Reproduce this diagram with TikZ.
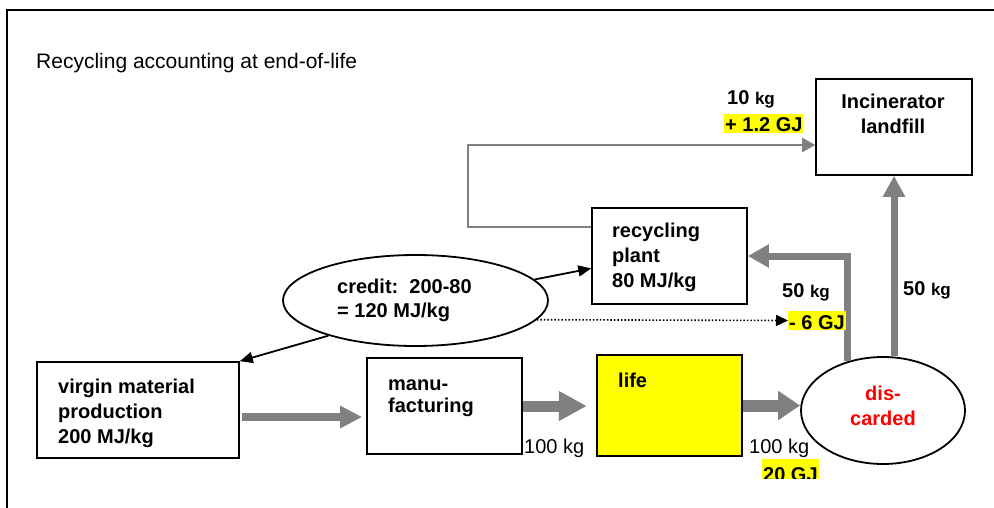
\documentclass[tikz,border=0pt]{standalone}
\usepackage{fontspec}
\setmainfont{Liberation Sans}
\usetikzlibrary{arrows.meta,shapes.geometric,calc}
\definecolor{flowgray}{RGB}{128,128,128}
\definecolor{hlyellow}{RGB}{255,255,0}
\definecolor{alertred}{RGB}{255,0,0}

\begin{document}
\begin{tikzpicture}[x=1pt,y=-1pt,
  box/.style={draw=black, line width=1.6pt, rectangle, inner sep=0pt},
  oval/.style={draw=black, line width=1.8pt, ellipse, inner sep=0pt},
  boxtext/.style={inner sep=0pt, font=\bfseries\fontsize{20}{25}\selectfont},
  qty/.style={anchor=base west, inner sep=0pt, font=\bfseries\fontsize{20}{24}\selectfont},
  mass/.style={anchor=base west, inner sep=0pt, font=\fontsize{20}{24}\selectfont},
  energy/.style={anchor=base west, fill=hlyellow, inner xsep=1pt, inner ysep=0pt,
    text height=18pt, text depth=1pt, font=\bfseries\fontsize{20}{24}\selectfont},
  loopline/.style={draw=flowgray, line width=2.5pt, line join=miter,
    -{Triangle[length=13pt,width=14pt]}},
  credit/.style={draw=black, line width=1.8pt, -{Triangle[length=13pt,width=11pt]}},
  saving/.style={draw=black, line width=1.6pt, dash pattern=on 1.5pt off 2pt,
    -{Triangle[length=12pt,width=11pt]}}
]
\useasboundingbox (0,0) rectangle (994,508);

% frame
\draw[line width=2pt] (7,520) -- (7,10) -- (1004,10);

% title
\node[anchor=base west, inner sep=0pt, font=\fontsize{21}{25}\selectfont] (title) at (36,69)
  {Recycling accounting at end-of-life};

% boxes and ovals
\node[box, minimum width=156pt, minimum height=96pt] (inc) at (894,127) {};
\node[box, minimum width=155pt, minimum height=96pt] (rec) at (669.5,256) {};
\node[box, minimum width=202pt, minimum height=96pt] (virgin) at (138,410) {};
\node[box, minimum width=155pt, minimum height=96pt] (manu) at (444.5,406) {};
\node[box, fill=hlyellow, line width=2.3pt, minimum width=145pt, minimum height=101pt] (life) at (669.5,405.5) {};
\node[oval, minimum width=265pt, minimum height=91pt] (cred) at (415.5,300.5) {};
\node[oval, minimum width=164pt, minimum height=107pt] (disc) at (883,410.5) {};

% texts inside the shapes
\node[boxtext, anchor=north, align=center] (inctext) at (893,90.5) {\strut Incinerator\\landfill};
\node[boxtext, anchor=north west, align=left] (rectext) at (612,219.5) {\strut recycling\\plant\\80 MJ/kg};
\node[boxtext, anchor=north west, align=left] (virgintext) at (58,375.5) {\strut virgin material\\production\\200 MJ/kg};
\node[boxtext, anchor=north west, align=left, font=\bfseries\fontsize{20}{22}\selectfont] (manutext) at (388,374.5) {\strut manu-\\facturing};
\node[boxtext, anchor=north west] (lifetext) at (618,369.5) {\strut life};
\node[boxtext, anchor=north west, align=left, font=\bfseries\fontsize{20}{24}\selectfont] (credtext) at (337,276.5) {\strut credit:\ \ 200-80\\= 120 MJ/kg};
\node[boxtext, anchor=north, align=center, text=alertred] (disctext) at (883,382.5) {\strut dis-\\carded};

% material flows
\draw[flowgray, line width=7.5pt, -{Triangle[length=22pt,width=21pt]}]
  ($(virgin.east)+(2,7)$) -- ($(manu.west)+(-4,11)$);
\draw[flowgray, line width=11pt, -{Triangle[length=28pt,width=28pt]}, shorten >=9pt]
  (manu.east) -- (manu.east -| life.west);
\draw[flowgray, line width=12pt, -{Triangle[length=22pt,width=28pt]}]
  (life.east) -- (life.east -| disc.west);
\draw[flowgray, line width=7pt, line join=miter, -{Triangle[length=21pt,width=22pt]}]
  (disc.126) |- (rec.east);
\draw[flowgray, line width=7pt, -{Triangle[length=21pt,width=21pt]}]
  (inc.south |- disc.north) -- (inc.south);

% residue loop from the recycling plant
\coordinate (loopa) at (468,227);
\coordinate (loopb) at (468,145);
\draw[loopline] (rec.west |- loopa) -- (loopa) -- (loopb) -- (inc.west |- loopb);

% credit arrows
\draw[credit] (cred.10) -- (rec.189);
\draw[credit] (cred.202) -- (virgin.north east);

% quantities
\node[qty] (kg10) at (727,105) {10 {\fontsize{17}{20}\selectfont kg}};
\node[energy] (gj12) at (724,132) {+ 1.2 GJ};
\node[qty] (kg50a) at (782,297) {50 {\fontsize{17}{20}\selectfont kg}};
\node[qty] (kg50b) at (903,295) {50 {\fontsize{17}{20}\selectfont kg}};
\node[energy] (gj6) at (788,329) {- 6 GJ};
\node[mass] (kg100a) at (524,453) {100 kg};
\node[mass] (kg100b) at (749,453) {100 kg};
\begin{scope}
  \clip (700,440) rectangle (860,478);
  \node[energy, text height=22pt] (gj20) at (762,481) {20 GJ};
\end{scope}

% energy saved by recycling
\draw[saving] (cred.-9) -- (gj6.west);
\end{tikzpicture}
\end{document}
